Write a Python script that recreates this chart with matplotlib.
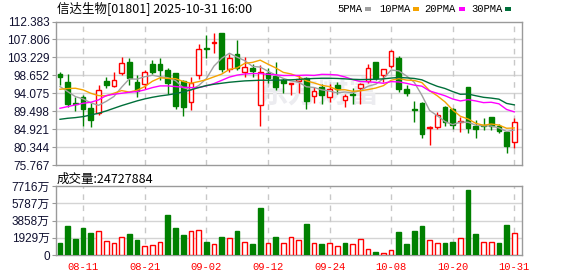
import matplotlib
matplotlib.use('Agg')
import matplotlib.pyplot as plt
from matplotlib.patches import Rectangle

# ---------------- data ----------------
dates = ['08-06', '08-07', '08-08', '08-11', '08-12', '08-13', '08-14', '08-15', '08-18', '08-19',
         '08-20', '08-21', '08-22', '08-25', '08-26', '08-27', '08-28', '08-29', '09-01', '09-02',
         '09-03', '09-04', '09-05', '09-08', '09-09', '09-10', '09-11', '09-12', '09-15', '09-16',
         '09-17', '09-18', '09-19', '09-22', '09-23', '09-24', '09-25', '09-26', '09-29', '09-30',
         '10-02', '10-03', '10-06', '10-08', '10-09', '10-10', '10-13', '10-14', '10-15', '10-16',
         '10-17', '10-20', '10-21', '10-22', '10-23', '10-24', '10-27', '10-28', '10-30', '10-31']
tick_dates = ['08-11', '08-21', '09-02', '09-12', '09-24', '10-08', '10-20', '10-31']

opens = [98.93, 96.88, 91.60, 93.05, 90.41, 89.13, 97.14, 96.03, 99.35, 101.99,
         97.06, 96.54, 101.48, 101.48, 99.95, 99.18, 97.23, 91.95, 98.76, 105.57,
         106.93, 109.40, 100.29, 104.04, 99.61, 100.63, 91.10, 99.18, 98.59, 97.48,
         96.37, 97.23, 97.91, 93.48, 95.78, 93.14, 96.12, 92.46, 93.99, 95.44,
         97.14, 101.99, 98.84, 101.14, 103.02, 95.18, 90.07, 91.52, 85.13, 85.39,
         90.67, 89.99, 86.67, 95.61, 85.82, 85.99, 87.94, 85.82, 84.20, 81.56]
highs = [99.44, 98.93, 93.20, 93.65, 91.52, 96.20, 98.33, 99.44, 103.44, 103.02,
         98.76, 100.00, 102.59, 103.02, 100.46, 99.35, 97.48, 98.33, 106.59, 108.98,
         109.40, 109.49, 104.04, 107.70, 103.27, 101.48, 101.31, 100.46, 102.17, 98.08,
         96.63, 98.67, 98.33, 95.61, 96.37, 96.54, 96.97, 93.99, 95.52, 96.71,
         101.48, 102.17, 100.38, 105.15, 103.70, 96.20, 92.12, 91.95, 85.82, 89.39,
         90.92, 90.24, 88.11, 95.61, 87.18, 87.86, 88.11, 86.16, 84.45, 87.69]
lows = [96.20, 90.67, 89.57, 85.73, 85.56, 88.54, 95.35, 95.61, 98.76, 96.20,
        93.22, 95.10, 98.93, 97.48, 93.82, 90.07, 88.28, 89.82, 97.65, 103.19,
        104.29, 99.44, 99.61, 100.03, 98.33, 98.33, 85.82, 96.63, 94.93, 94.07,
        93.65, 94.16, 90.07, 91.52, 91.26, 91.95, 93.99, 90.50, 91.26, 91.43,
        96.63, 97.48, 97.06, 100.63, 94.50, 93.39, 86.84, 82.58, 80.88, 84.88,
        85.82, 84.96, 84.28, 83.86, 82.75, 84.71, 84.62, 83.86, 78.92, 80.19]
closes = [98.25, 91.26, 91.35, 90.07, 87.26, 95.01, 96.29, 97.57, 101.91, 97.91,
          94.67, 99.44, 99.50, 100.03, 96.63, 90.92, 90.50, 96.63, 105.49, 105.40,
          107.10, 100.29, 103.19, 100.46, 100.89, 99.78, 99.44, 97.91, 95.61, 96.63,
          96.63, 97.65, 92.12, 94.67, 93.65, 95.10, 95.27, 93.31, 93.73, 96.37,
          100.63, 97.91, 100.38, 104.80, 95.18, 94.16, 89.90, 83.69, 85.47, 88.54,
          86.67, 85.99, 86.92, 85.22, 84.96, 85.64, 85.82, 84.54, 80.62, 86.84]

ma5 = [95.78, 94.50, 93.22, 92.63, 91.64, 90.99, 92.00, 93.24, 95.61, 97.74,
       97.67, 98.30, 98.67, 98.30, 98.04, 97.29, 95.50, 94.94, 96.03, 97.79,
       101.02, 102.98, 104.29, 103.29, 102.39, 100.92, 100.75, 99.70, 98.73, 97.87,
       97.24, 96.89, 95.73, 95.54, 94.94, 94.64, 94.16, 94.40, 94.21, 94.76,
       95.86, 96.39, 97.80, 100.02, 99.78, 98.49, 96.88, 93.55, 89.68, 88.35,
       86.85, 86.07, 86.72, 86.67, 85.95, 85.75, 85.71, 85.24, 84.32, 84.69]
ma10 = [95.10, 95.27, 95.35, 94.93, 94.07, 93.48, 93.39, 94.07, 94.76, 94.37,
        94.84, 95.77, 97.14, 98.02, 97.86, 97.80, 97.09, 96.62, 97.04, 97.54,
        98.26, 98.96, 100.16, 100.54, 101.71, 101.95, 102.52, 101.50, 100.56, 99.40,
        99.00, 98.30, 97.23, 96.71, 96.09, 95.77, 94.95, 94.97, 94.58, 94.70,
        95.01, 95.40, 96.01, 97.39, 97.82, 97.44, 97.34, 96.79, 94.73, 93.42,
        91.87, 89.81, 88.20, 87.51, 86.40, 85.91, 86.22, 85.96, 85.14, 85.22]
ma20 = [90.24, 90.67, 91.10, 91.52, 91.78, 92.37, 93.48, 93.82, 94.07, 94.33,
        94.50, 94.93, 95.52, 95.95, 95.95, 95.78, 95.61, 95.52, 95.52, 95.96,
        96.55, 97.37, 98.20, 98.70, 99.00, 99.10, 99.10, 98.90, 98.80, 98.60,
        98.63, 98.63, 98.70, 98.63, 98.90, 98.86, 98.74, 98.24, 97.57, 97.05,
        97.01, 96.85, 96.62, 97.05, 96.96, 96.61, 96.15, 95.88, 94.66, 94.06,
        93.44, 92.61, 92.11, 92.45, 92.11, 91.68, 91.78, 91.38, 89.94, 89.32]
ma30 = [87.43, 87.69, 87.86, 88.11, 88.54, 88.97, 89.56, 90.24, 90.92, 91.52,
        92.12, 92.63, 93.05, 93.39, 93.65, 93.99, 94.42, 94.93, 95.52, 96.03,
        96.37, 96.63, 96.88, 97.06, 97.23, 97.31, 97.40, 97.40, 97.42, 97.45,
        97.50, 97.60, 97.75, 97.85, 97.90, 97.90, 97.85, 97.75, 97.62, 97.55,
        97.60, 97.65, 97.75, 97.95, 98.10, 98.00, 97.85, 97.50, 96.62, 95.84,
        95.29, 94.50, 93.81, 93.87, 93.44, 93.04, 92.84, 92.57, 91.48, 91.11]

volumes_wan = [1361, 3289, 1814, 3062, 2495, 2684, 1588, 1361, 2003, 2381,
               1701, 983, 1096, 1474, 4423, 3062, 2268, 2722, 2835, 1474,
               1247, 2041, 1890, 2722, 1474, 1247, 5216, 1361, 2041, 1361,
               2041, 1701, 3515, 1361, 1247, 1361, 983, 1361, 1247, 1777,
               643, 340, 189, 529, 2608, 1247, 2722, 3289, 1701, 1361,
               1361, 1474, 1890, 7258, 2381, 1474, 1474, 1361, 3402, 2472.79]
vol_up = [0, 0, 0, 0, 0, 1, 1, 1, 1, 0,
          0, 1, 1, 1, 0, 0, 0, 1, 1, 0,
          1, 0, 1, 0, 1, 0, 0, 1, 0, 1,
          1, 1, 0, 1, 0, 1, 1, 0, 1, 1,
          1, 0, 1, 1, 0, 0, 0, 0, 1, 1,
          0, 0, 1, 0, 0, 1, 1, 0, 0, 1]

price_ticks = [75.767, 80.344, 84.921, 89.498, 94.075, 98.652, 103.229, 107.806, 112.383]
vol_ticks_wan = [0, 1929, 3858, 5787, 7716]
vol_tick_labels = ['0', '1929万', '3858万', '5787万', '7716万']
title = '信达生物[01801] 2025-10-31 16:00'
vol_title = '成交量:24727884'
ma_names = ['5PMA', '10PMA', '20PMA', '30PMA']

# ---------------- style ----------------
RED = '#ff0000'
GREEN = '#008000'
MA_COLORS = ['#a0a0a0', '#f5a300', '#ff00ff', '#006f3a']
GRID = '#d4d4d4'
FRAME = '#9a9a9a'
CJK = ['Noto Sans CJK SC', 'DejaVu Sans']
NUM = ['Liberation Sans', 'Noto Sans CJK SC']

W, H = 578, 276
fig = plt.figure(figsize=(W / 100, H / 100), dpi=100)
L, R = 56, 522
ax = fig.add_axes([L / W, 1 - 165 / H, (R - L) / W, (165 - 21.5) / H])
axv = fig.add_axes([L / W, 1 - 255 / H, (R - L) / W, (255 - 186) / H])

n = len(closes)
xs = list(range(n))
tick_idx = [dates.index(d) for d in tick_dates]

for a in (ax, axv):
    a.set_xlim(-0.52, n)
    for s in a.spines.values():
        s.set_color(FRAME)
        s.set_linewidth(1.0)
    for t in tick_idx:
        a.axvline(t, color='#c8c8c8', lw=1.0, ls=(0, (4, 4)), zorder=0.6)

# main panel
ax.set_ylim(price_ticks[0], price_ticks[-1])
for v in price_ticks[1:-1]:
    ax.axhline(v, color=GRID, lw=1.0, zorder=0.5)
ax.set_yticks(price_ticks)
ax.set_yticklabels(['%.3f' % v for v in price_ticks])
ax.set_xticks([])
ax.tick_params(axis='y', length=3, color=FRAME, labelsize=8.5, pad=1.5, labelcolor='#101030')
for lab in ax.get_yticklabels():
    lab.set_family(NUM)

ax.text(318 / W, 1 - 93 / H, '东方财富', transform=fig.transFigure, ha='center', va='center',
        fontsize=22, fontweight='bold', color='#ececf0', family=CJK, zorder=0.55)

bw = 0.62
for i in xs:
    o, h, l, c = opens[i], highs[i], lows[i], closes[i]
    up = c >= o
    col = RED if up else GREEN
    ax.vlines(i, l, h, color=col, lw=1.0, zorder=3)
    lo, hi = min(o, c), max(o, c)
    ax.add_patch(Rectangle((i - bw / 2, lo), bw, max(hi - lo, 0.05),
                           facecolor='white' if up else GREEN, edgecolor=col,
                           lw=1.0, zorder=4))

for vals, col in zip([ma5, ma10, ma20, ma30], MA_COLORS):
    ax.plot(xs, vals, color=col, lw=1.0, zorder=5)

# volume panel
axv.set_ylim(0, vol_ticks_wan[-1])
for v in vol_ticks_wan[1:-1]:
    axv.axhline(v, color=GRID, lw=1.0, zorder=0.5)
axv.set_yticks(vol_ticks_wan)
axv.set_yticklabels(vol_tick_labels)
axv.tick_params(axis='y', length=3, color=FRAME, labelsize=8.5, pad=1.5, labelcolor='#101030')
for lab in axv.get_yticklabels():
    lab.set_family(NUM)
axv.set_xticks(tick_idx)
axv.set_xticklabels(tick_dates)
axv.tick_params(axis='x', length=0, pad=5, labelsize=7.6, labelcolor=RED)
for lab in axv.get_xticklabels():
    lab.set_family(['Liberation Mono'])

vw = 0.6
for i in xs:
    up = vol_up[i]
    col = RED if up else GREEN
    axv.add_patch(Rectangle((i - vw / 2, 0), vw, volumes_wan[i],
                            facecolor='white' if up else GREEN, edgecolor=col,
                            lw=1.0, zorder=4))

# texts
fig.text(57 / W, 1 - 8.5 / H, title, ha='left', va='center', fontsize=9, family=CJK, color='#000000')
fig.text(57 / W, 1 - 179 / H, vol_title, ha='left', va='center', fontsize=9, family=CJK, color='#000000')

# legend: text followed by a small colour block
leg_x = [337, 379, 424, 471]
leg_sq = [365, 413, 459, 505]
for name, col, x0, xs0 in zip(ma_names, MA_COLORS, leg_x, leg_sq):
    fig.text(x0 / W, 1 - 9 / H, name, ha='left', va='center', fontsize=7.6,
             family=['Liberation Mono'], color='#000000')
    fig.patches.append(Rectangle((xs0 / W, 1 - 10.5 / H), 6 / W, 3.5 / H, transform=fig.transFigure,
                                 facecolor=col, edgecolor='none'))

fig.savefig('out.png', dpi=100, facecolor='white')
